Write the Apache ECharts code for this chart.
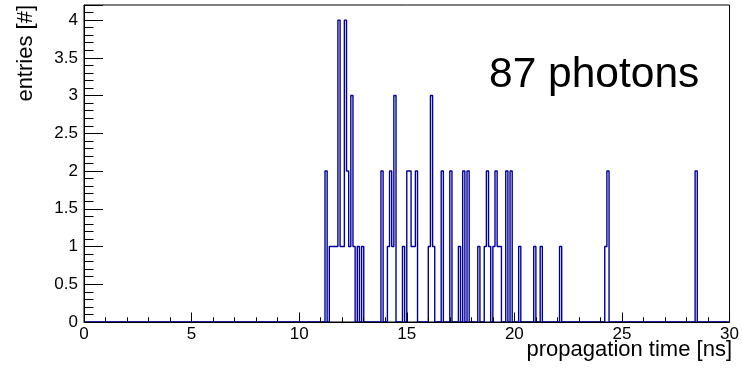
<!DOCTYPE html>
<html>
<head>
<meta charset="utf-8">
<script src="https://cdn.jsdelivr.net/npm/echarts@6/dist/echarts.min.js"></script>
<style>
html,body{margin:0;padding:0;background:#fff;}
#chart{width:742px;height:369px;}
</style>
</head>
<body>
<div id="chart"></div>
<script>
// Histogram: 300 bins of 0.1 ns from 0 to 30 ns
const binWidth = 0.1;
const nBins = 300;
// low edges of non-empty bins (ns) and their entries
const binLowEdges = [11.2, 11.4, 11.5, 11.6, 11.7, 11.8, 11.9, 12.0, 12.1, 12.2, 12.3, 12.4, 12.5, 12.7, 12.9,
  13.8, 14.1, 14.2, 14.3, 14.4, 14.8,
  15.0, 15.1, 15.2, 15.3, 15.4, 16.0, 16.1, 16.2, 16.6, 17.0, 17.4, 17.6, 17.8,
  18.3, 18.6, 18.7, 18.8, 19.0, 19.1, 19.2, 19.3, 19.6, 19.8, 20.2,
  20.9, 21.2, 22.1, 24.2, 24.3, 28.4];
const binEntries = [2, 1, 1, 1, 1, 4, 1, 1, 4, 2, 1, 3, 1, 1, 1,
  2, 1, 2, 1, 3, 1,
  2, 2, 1, 1, 2, 1, 3, 1, 2, 2, 1, 2, 2,
  1, 1, 2, 1, 1, 2, 1, 1, 2, 2, 1,
  1, 1, 1, 1, 2, 2];
const xTickLabels = ['0', '5', '10', '15', '20', '25', '30'];
const titleText = '87 photons';
const xTitle = 'propagation time [ns]';
const yTitle = 'entries [#]';

const counts = new Array(nBins).fill(0);
binLowEdges.forEach((t, i) => { counts[Math.round(t / binWidth)] += binEntries[i]; });
const stepData = [];
for (let i = 0; i < nBins; i++) stepData.push([i / 10, counts[i]]);
stepData.push([nBins / 10, counts[nBins - 1]]);

const chart = echarts.init(document.getElementById('chart'), null, {renderer: 'canvas'});
const font = 'Liberation Sans, Arial, Helvetica, sans-serif';
chart.setOption({
  animation: false,
  backgroundColor: '#fff',
  grid: {left: 84, right: 11, top: 5, bottom: 47, show: true, borderColor: '#000', borderWidth: 1, backgroundColor: 'transparent'},
  xAxis: {
    type: 'value', min: 0, max: 30, interval: 5, z: 5,
    axisLine: {show: true, onZero: false, lineStyle: {color: '#000', width: 1}},
    axisTick: {show: true, inside: true, length: 9.5, lineStyle: {color: '#000'}},
    minorTick: {show: true, splitNumber: 5, length: 4.75, lineStyle: {color: '#000'}},
    splitLine: {show: false},
    axisLabel: {fontSize: 17, color: '#000', fontFamily: font, margin: 4,
      formatter: v => xTickLabels[Math.round(v / 5)] || ''}
  },
  yAxis: {
    type: 'value', min: 0, max: 4.2, interval: 0.5, z: 5,
    axisLine: {show: true, lineStyle: {color: '#000', width: 1}},
    axisTick: {show: true, inside: true, length: 19, lineStyle: {color: '#000'}},
    minorTick: {show: true, splitNumber: 5, length: 9.5, lineStyle: {color: '#000'}},
    splitLine: {show: false},
    axisLabel: {fontSize: 17, color: '#000', fontFamily: font, margin: 6,
      formatter: v => (v > 4.05 ? '' : String(v))}
  },
  series: [{
    type: 'line', step: 'end', data: stepData, showSymbol: false, z: 1,
    lineStyle: {color: '#000099', width: 1.4}, itemStyle: {color: '#000099'}
  }],
  graphic: [
    {type: 'text', left: 489, top: 54, style: {text: titleText, font: '42.5px ' + font, fill: '#000'}},
    {type: 'text', right: 10, top: 339, style: {text: xTitle, font: '22px ' + font, fill: '#000'}},
    {type: 'text', x: 15, y: 5, rotation: Math.PI / 2, style: {text: yTitle, font: '22px ' + font, fill: '#000', align: 'right', verticalAlign: 'top'}}
  ]
});
</script>
</body>
</html>
